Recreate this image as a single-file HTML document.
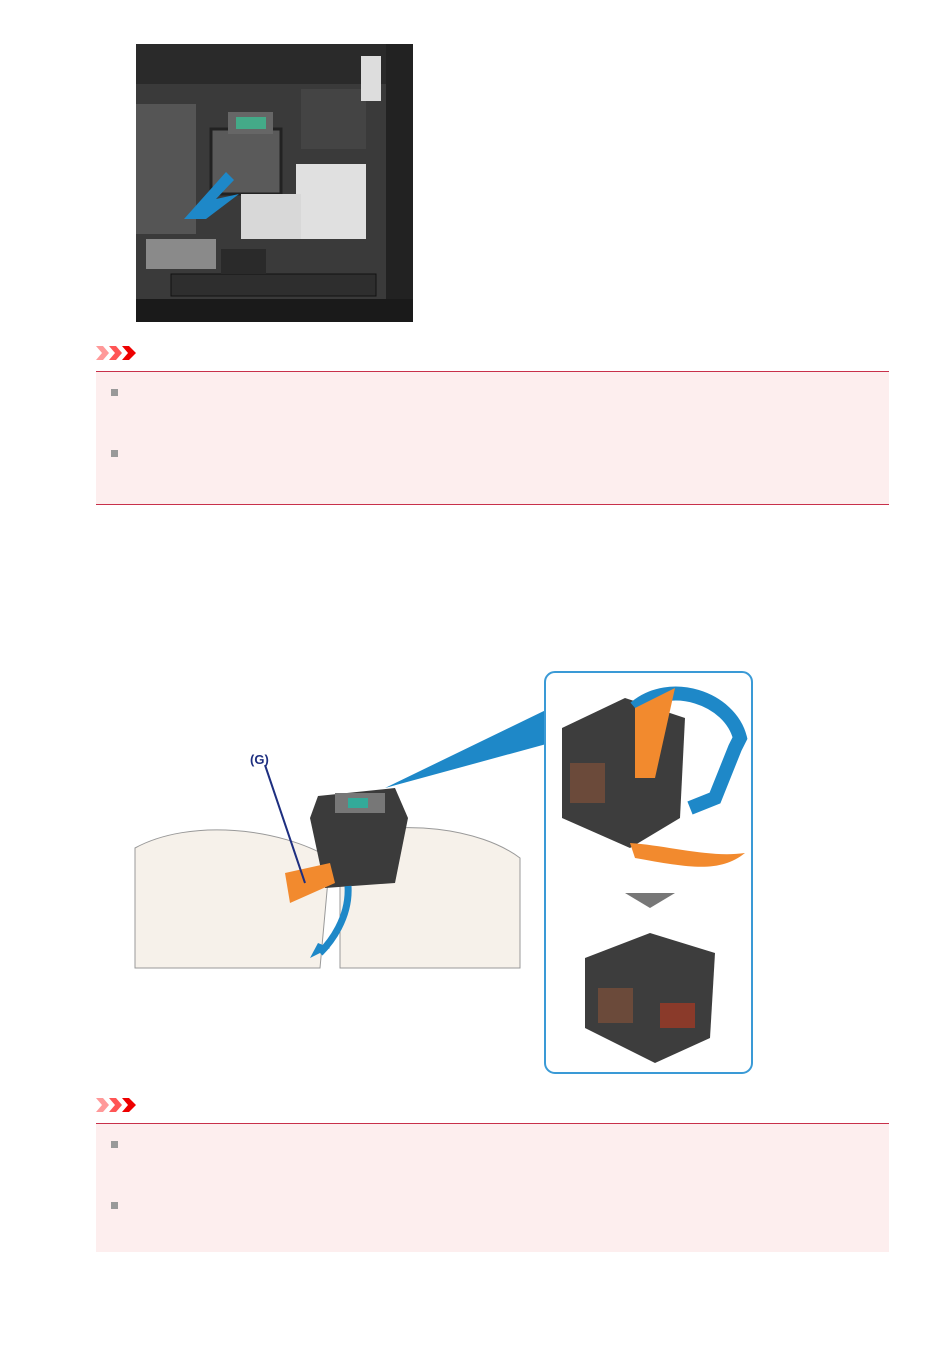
<!DOCTYPE html>
<html><head><meta charset="utf-8"><style>
body{margin:0;width:950px;height:1369px;background:#fff;position:relative;overflow:hidden;font-family:"Liberation Sans",sans-serif}
.abs{position:absolute}
.box{position:absolute;left:96px;width:793px;background:#fdeeee;border-top:1px solid #c8304a}
.bul{position:absolute;width:7px;height:7px;background:#999}
</style></head><body>
<svg class="abs" style="left:136px;top:44px" width="277" height="278" viewBox="0 0 277 278">
<rect width="277" height="278" fill="#3a3a3a"/>
<rect x="0" y="0" width="277" height="40" fill="#2a2a2a"/>
<rect x="250" y="0" width="27" height="278" fill="#222"/>
<rect x="0" y="60" width="60" height="130" fill="#555"/>
<rect x="75" y="85" width="70" height="65" fill="#5a5a5a" stroke="#222" stroke-width="3"/>
<rect x="92" y="68" width="45" height="22" fill="#666"/>
<rect x="100" y="73" width="30" height="12" fill="#4a8"/>
<rect x="165" y="45" width="65" height="60" fill="#444"/>
<rect x="160" y="120" width="70" height="75" fill="#e0e0e0"/>
<rect x="105" y="150" width="60" height="45" fill="#d8d8d8"/>
<rect x="35" y="230" width="205" height="22" fill="#2e2e2e" stroke="#111"/>
<rect x="85" y="205" width="45" height="25" fill="#2a2a2a"/>
<rect x="10" y="195" width="70" height="30" fill="#8a8a8a"/>
<rect x="225" y="12" width="20" height="45" fill="#ddd"/>
<polygon points="48,175 90,128 98,136 80,155 103,150 70,175" fill="#1e88c8"/>
<rect x="0" y="255" width="277" height="23" fill="#1a1a1a"/>
</svg>
<svg class="abs" style="left:96px;top:345px" width="42" height="16"><polygon points="0,1 7,1 13,8 7,15 0,15 6,8" fill="#ff9999"/><polygon points="13,1 20,1 26,8 20,15 13,15 19,8" fill="#ff5555"/><polygon points="26,1 33,1 40,8 33,15 26,15 32,8" fill="#ee0000"/></svg>
<div class="box" style="top:371px;height:132px;border-bottom:1px solid #c8304a"></div>
<div class="bul" style="left:111px;top:389px"></div>
<div class="bul" style="left:111px;top:450px"></div>

<svg class="abs" style="left:130px;top:668px" width="630" height="410" viewBox="0 0 630 410">
<polygon points="255,120 420,40 420,75" fill="#1e88c8"/>
<rect x="415" y="4" width="207" height="401" rx="10" fill="#fff" stroke="#3a9ad6" stroke-width="2"/>
<path d="M5,180 C60,150 150,160 200,190 L190,300 L5,300Z" fill="#f6f1ea" stroke="#999"/>
<path d="M210,170 C270,150 350,160 390,190 L390,300 L210,300Z" fill="#f6f1ea" stroke="#999"/>
<polygon points="188,128 265,120 278,150 265,215 195,220 180,150" fill="#3b3b3b"/>
<rect x="205" y="125" width="50" height="20" fill="#777"/>
<rect x="218" y="130" width="20" height="10" fill="#3a9"/>
<polygon points="155,205 200,195 205,215 160,235" fill="#f28a2e"/>
<line x1="135" y1="97" x2="175" y2="215" stroke="#1e2f80" stroke-width="2"/>
<text x="120" y="96" font-size="13" font-weight="bold" fill="#1e2f80">(G)</text>
<path d="M218,218 C220,250 200,275 190,285" stroke="#1e88c8" stroke-width="7" fill="none"/>
<polygon points="180,290 200,280 188,275" fill="#1e88c8"/>
<polygon points="432,60 495,30 555,50 550,150 500,180 432,150" fill="#3d3d3d"/>
<rect x="440" y="95" width="35" height="40" fill="#6b4a3a"/>
<path d="M505,40 C540,10 600,30 610,70 L605,80 L585,130 L560,140" stroke="#1e88c8" stroke-width="14" fill="none"/>
<path d="M505,40 L545,20 L525,110 L505,110Z" fill="#f28a2e"/>
<path d="M500,175 C540,178 580,190 615,185 C590,205 560,200 505,190Z" fill="#f28a2e"/>
<polygon points="495,225 545,225 520,240" fill="#777"/>
<polygon points="455,290 520,265 585,285 580,370 525,395 455,360" fill="#3d3d3d"/>
<rect x="468" y="320" width="35" height="35" fill="#6b4a3a"/>
<rect x="530" y="335" width="35" height="25" fill="#8a3a2a"/>
</svg>

<svg class="abs" style="left:96px;top:1097px" width="42" height="16"><polygon points="0,1 7,1 13,8 7,15 0,15 6,8" fill="#ff9999"/><polygon points="13,1 20,1 26,8 20,15 13,15 19,8" fill="#ff5555"/><polygon points="26,1 33,1 40,8 33,15 26,15 32,8" fill="#ee0000"/></svg>
<div class="box" style="top:1123px;height:128px"></div>
<div class="bul" style="left:111px;top:1141px"></div>
<div class="bul" style="left:111px;top:1202px"></div>
</body></html>
